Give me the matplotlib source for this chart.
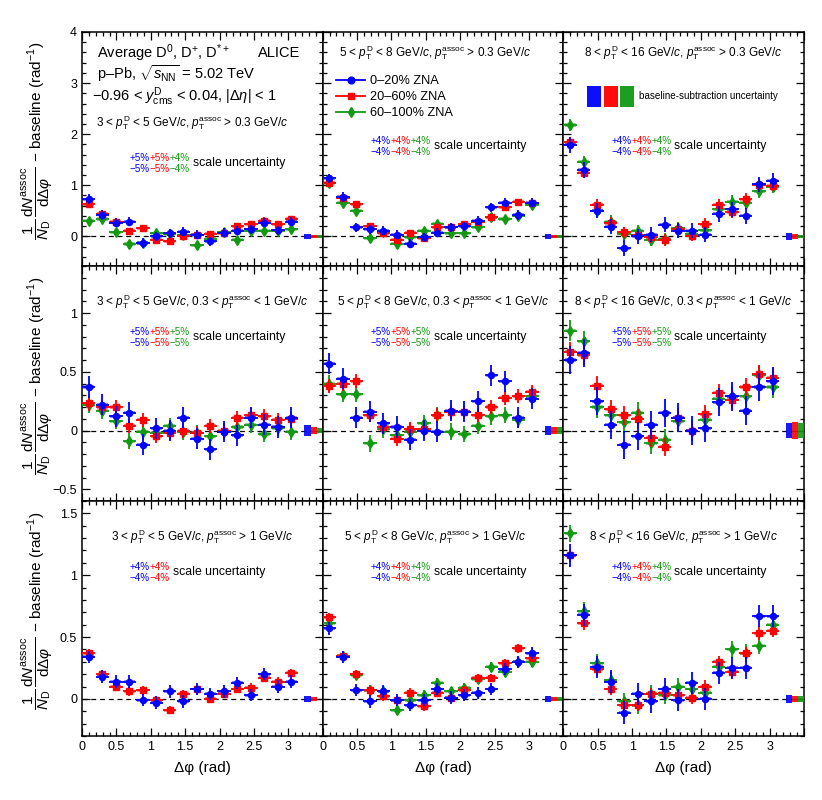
import matplotlib
matplotlib.use('Agg')
import matplotlib.pyplot as plt
from matplotlib.patches import Rectangle
from matplotlib.lines import Line2D
from matplotlib.ticker import MultipleLocator, FuncFormatter, FixedLocator

plt.rcParams['font.family'] = ['Liberation Sans', 'DejaVu Sans']
plt.rcParams['mathtext.fontset'] = 'custom'
plt.rcParams['mathtext.rm'] = 'Liberation Sans'
plt.rcParams['mathtext.it'] = 'Liberation Sans:italic'
plt.rcParams['mathtext.bf'] = 'Liberation Sans:bold'

# delta phi bin centres (pi/16 bins)
dphi = [0.098, 0.295, 0.491, 0.687, 0.884, 1.080, 1.276, 1.473,
        1.669, 1.865, 2.062, 2.258, 2.454, 2.651, 2.847, 3.043]
bin_half = 0.098

# row 1: pT assoc > 0.3 GeV/c
r1c1_blue = [0.73, 0.42, 0.27, 0.29, -0.13, 0.00, 0.06, 0.09, 0.03, -0.10, 0.07, 0.11, 0.14, 0.27, 0.12, 0.29]
r1c1_red = [0.63, 0.44, 0.29, 0.11, 0.16, -0.07, -0.10, 0.01, 0.03, 0.05, 0.06, 0.20, 0.24, 0.31, 0.24, 0.34]
r1c1_green = [0.31, 0.34, 0.08, -0.15, -0.13, 0.06, 0.04, 0.02, -0.17, -0.05, 0.08, -0.07, 0.11, 0.11, 0.11, 0.14]

r1c2_blue = [1.14, 0.77, 0.18, 0.14, 0.11, 0.03, -0.14, -0.02, 0.07, 0.18, 0.20, 0.31, 0.57, 0.66, 0.42, 0.66]
r1c2_red = [1.05, 0.76, 0.63, 0.20, 0.06, -0.07, 0.07, -0.04, 0.18, 0.18, 0.24, 0.29, 0.37, 0.57, 0.68, 0.65]
r1c2_green = [1.04, 0.66, 0.50, -0.04, 0.08, -0.14, -0.02, 0.11, 0.25, 0.06, 0.06, 0.18, 0.37, 0.34, 0.40, 0.62]

r1c3_blue = [1.79, 1.30, 0.50, 0.19, -0.23, 0.00, 0.03, 0.23, 0.11, 0.11, 0.03, 0.44, 0.53, 0.40, 1.02, 1.09]
r1c3_red = [1.84, 1.25, 0.62, 0.26, 0.08, 0.02, -0.02, -0.07, 0.14, 0.01, 0.24, 0.62, 0.47, 0.73, 1.01, 0.99]
r1c3_green = [2.18, 1.46, 0.50, 0.29, 0.05, 0.11, -0.07, -0.05, 0.16, 0.05, 0.12, 0.53, 0.68, 0.66, 0.88, 0.97]

# row 2: 0.3 < pT assoc < 1 GeV/c
r2c1_blue = [0.37, 0.22, 0.12, 0.15, -0.12, 0.02, 0.00, 0.11, -0.07, -0.16, -0.01, -0.04, 0.11, 0.05, 0.03, 0.11]
r2c1_red = [0.23, 0.20, 0.20, 0.04, 0.09, -0.05, -0.02, 0.00, -0.02, 0.04, 0.00, 0.11, 0.13, 0.12, 0.09, 0.10]
r2c1_green = [0.22, 0.17, 0.08, -0.09, -0.01, -0.02, 0.04, -0.01, -0.02, -0.05, -0.01, 0.03, 0.05, -0.03, 0.02, -0.01]

r2c2_blue = [0.57, 0.44, 0.11, 0.16, 0.06, 0.03, -0.08, 0.00, -0.01, 0.17, 0.16, 0.25, 0.47, 0.42, 0.11, 0.27]
r2c2_red = [0.38, 0.40, 0.42, 0.13, 0.03, -0.07, 0.01, 0.01, 0.13, 0.16, 0.16, 0.13, 0.20, 0.28, 0.29, 0.33]
r2c2_green = [0.40, 0.31, 0.31, -0.11, 0.01, -0.04, -0.01, 0.06, 0.13, -0.01, -0.03, 0.04, 0.12, 0.13, 0.09, 0.29]

r2c3_blue = [0.60, 0.66, 0.25, 0.05, -0.12, -0.05, 0.05, 0.15, 0.11, 0.00, 0.02, 0.24, 0.29, 0.17, 0.37, 0.42]
r2c3_red = [0.67, 0.64, 0.38, 0.18, 0.13, 0.10, -0.06, -0.14, 0.11, 0.00, 0.14, 0.32, 0.26, 0.37, 0.48, 0.45]
r2c3_green = [0.85, 0.76, 0.20, 0.13, 0.07, 0.15, -0.11, -0.08, 0.08, 0.00, 0.09, 0.27, 0.29, 0.29, 0.47, 0.37]

# row 3: pT assoc > 1 GeV/c
r3c1_blue = [0.34, 0.18, 0.14, 0.14, -0.01, -0.03, 0.06, -0.02, 0.08, 0.04, 0.06, 0.13, 0.03, 0.20, 0.10, 0.14]
r3c1_red = [0.37, 0.20, 0.10, 0.06, 0.07, -0.01, -0.09, 0.04, 0.08, 0.00, 0.04, 0.08, 0.09, 0.17, 0.14, 0.21]

r3c2_blue = [0.57, 0.34, 0.07, -0.02, 0.06, -0.01, -0.05, -0.01, 0.08, 0.01, 0.03, 0.05, 0.08, 0.24, 0.30, 0.37]
r3c2_red = [0.66, 0.35, 0.20, 0.07, 0.02, -0.01, 0.05, -0.06, 0.05, 0.01, 0.07, 0.17, 0.17, 0.29, 0.41, 0.33]
r3c2_green = [0.61, 0.35, 0.19, 0.07, 0.06, -0.09, -0.01, 0.03, 0.13, 0.06, 0.09, 0.16, 0.26, 0.22, 0.30, 0.30]

r3c3_blue = [1.16, 0.68, 0.26, 0.14, -0.11, 0.04, -0.02, 0.08, -0.01, 0.13, 0.00, 0.21, 0.25, 0.25, 0.67, 0.67]
r3c3_red = [1.16, 0.61, 0.24, 0.08, -0.05, -0.05, 0.04, 0.05, 0.03, 0.01, 0.10, 0.30, 0.22, 0.37, 0.53, 0.55]
r3c3_green = [1.34, 0.71, 0.29, 0.15, -0.02, -0.05, 0.04, 0.03, 0.10, 0.08, 0.05, 0.26, 0.40, 0.37, 0.43, 0.60]

# typical statistical errors (blue, red, green) per panel
stat_r1 = [[0.09, 0.06, 0.06], [0.09, 0.06, 0.06], [0.15, 0.11, 0.12]]
stat_r2 = [[0.09, 0.06, 0.07], [0.09, 0.06, 0.07], [0.12, 0.08, 0.09]]
stat_r3 = [[0.05, 0.035, 0.04], [0.05, 0.035, 0.04], [0.09, 0.05, 0.07]]

# baseline-subtraction uncertainty half heights (blue, red, green)
base_r1 = [[0.045, 0.03, 0.03], [0.045, 0.03, 0.03], [0.065, 0.045, 0.035]]
base_r2 = [[0.043, 0.03, 0.025], [0.04, 0.03, 0.03], [0.06, 0.07, 0.065]]
base_r3 = [[0.027, 0.015, 0.0], [0.025, 0.018, 0.015], [0.03, 0.025, 0.025]]

sys_half = [0.03, 0.013, 0.012]

scale_r1 = [['+5%', '+5%', '+4%'], ['+4%', '+4%', '+4%'], ['+4%', '+4%', '+4%']]
scale_r2 = [['+5%', '+5%', '+5%'], ['+5%', '+5%', '+5%'], ['+5%', '+5%', '+5%']]
scale_r3 = [['+4%', '+4%'], ['+4%', '+4%', '+4%'], ['+4%', '+4%', '+4%']]

dpt_labels = ['3 < $p_{\\rm T}^{\\rm D}$ < 5 GeV/$c$', '5 < $p_{\\rm T}^{\\rm D}$ < 8 GeV/$c$',
              '8 < $p_{\\rm T}^{\\rm D}$ < 16 GeV/$c$']
assoc_labels = ['$p_{\\rm T}^{\\rm assoc}$ > 0.3 GeV/$c$', '0.3 < $p_{\\rm T}^{\\rm assoc}$ < 1 GeV/$c$',
                '$p_{\\rm T}^{\\rm assoc}$ > 1 GeV/$c$']
series_names = ['0–20% ZNA', '20–60% ZNA', '60–100% ZNA']

colors = ['#0000ff', '#ff0000', '#129912']
markers = ['o', 's', 'd']
msizes = [4.4, 4.0, 4.8]

W, H = 822, 800
fig = plt.figure(figsize=(W / 100, H / 100), dpi=100)

col_edges = [82, 322.7, 563.3, 804]
row_edges = [32, 266, 501, 736]
ylims = [(-0.58, 4.0), (-0.6, 1.4), (-0.3, 1.6)]
yticks = [[0, 1, 2, 3, 4], [-0.5, 0, 0.5, 1], [0, 0.5, 1, 1.5]]
yminor = [0.2, 0.1, 0.1]
lab_shift = [0, -8, 0]


def fmt(v, pos):
    if v > 3.2 and v < 3.6:
        return ''
    s = '%g' % round(v, 3)
    return s.replace('-', '\u2212')


def ftext(x, y, s, **kw):
    fig.text(x / W, 1 - y / H, s, **kw)


panels = [
    [[r1c1_blue, r1c1_red, r1c1_green], [r1c2_blue, r1c2_red, r1c2_green], [r1c3_blue, r1c3_red, r1c3_green]],
    [[r2c1_blue, r2c1_red, r2c1_green], [r2c2_blue, r2c2_red, r2c2_green], [r2c3_blue, r2c3_red, r2c3_green]],
    [[r3c1_blue, r3c1_red], [r3c2_blue, r3c2_red, r3c2_green], [r3c3_blue, r3c3_red, r3c3_green]],
]
stats = [stat_r1, stat_r2, stat_r3]
bases = [base_r1, base_r2, base_r3]
scales = [scale_r1, scale_r2, scale_r3]
base_x = [3.28, 3.37, 3.46]

axes = {}
for r in range(3):
    for c in range(3):
        x0, x1 = col_edges[c], col_edges[c + 1]
        y0, y1 = row_edges[r], row_edges[r + 1]
        ax = fig.add_axes([x0 / W, 1 - y1 / H, (x1 - x0) / W, (y1 - y0) / H])
        axes[(r, c)] = ax
        ax.set_xlim(0, 3.5)
        ax.set_ylim(*ylims[r])
        ax.axhline(0, color='black', ls=(0, (4, 3)), lw=0.9, zorder=1)

        series = panels[r][c]
        for i in reversed(range(len(series))):
            vals = series[i]
            col = colors[i]
            for xv, yv in zip(dphi, vals):
                ax.add_patch(Rectangle((xv - 0.08, yv - sys_half[r]), 0.16, 2 * sys_half[r],
                                       facecolor=col, alpha=0.45, lw=0, zorder=2))
            ax.errorbar(dphi, vals, xerr=bin_half, yerr=stats[r][c][i], fmt=markers[i],
                        color=col, ms=msizes[i], elinewidth=1.3, capsize=0, zorder=3 + (3 - i))
            bh = bases[r][c][i]
            ax.add_patch(Rectangle((base_x[i] - 0.045, -bh), 0.09, 2 * bh,
                                   facecolor=col, alpha=0.9, lw=0, zorder=4))

        ax.xaxis.set_major_locator(MultipleLocator(0.5))
        ax.xaxis.set_minor_locator(MultipleLocator(0.1))
        ax.yaxis.set_major_locator(FixedLocator(yticks[r]))
        ax.yaxis.set_minor_locator(MultipleLocator(yminor[r]))
        ax.xaxis.set_major_formatter(FuncFormatter(fmt))
        ax.yaxis.set_major_formatter(FuncFormatter(fmt))
        ax.tick_params(which='both', direction='in', top=True, right=True, labelsize=9)
        ax.tick_params(which='major', length=6, width=0.9)
        ax.tick_params(which='minor', length=3, width=0.9)
        if c != 0:
            ax.tick_params(labelleft=False)
        if r != 2:
            ax.tick_params(labelbottom=False)
        for sp in ax.spines.values():
            sp.set_linewidth(1.1)

        # kinematic label
        lab = dpt_labels[c] + ', ' + assoc_labels[r]
        if r == 0 and c == 0:
            ftext(192, 123, lab, fontsize=8.5, ha='center', va='center')
        else:
            ly = row_edges[r] + (21 if r == 0 else 36)
            ftext((x0 + x1) / 2 + (lab_shift[c] if r != 1 else 0), ly, lab,
                  fontsize=8.5, ha='center', va='center')

        # scale uncertainty
        sx = x0 + 48
        sy = y0 + (126 if r == 0 and c == 0 else 109 if r == 0 else 66)
        pcts = scales[r][c]
        for k, p in enumerate(pcts):
            ftext(sx + 20 * k, sy, p, fontsize=7.1, color=colors[k], ha='left', va='center')
            ftext(sx + 20 * k, sy + 11, '\u2212' + p[1:], fontsize=7.1, color=colors[k],
                  ha='left', va='center')
        ftext(sx + 20 * len(pcts) + 3, sy + 5, 'scale uncertainty', fontsize=8.8, ha='left', va='center')

        if r == 2:
            ftext((x0 + x1) / 2, 768, 'Δφ (rad)', fontsize=11, ha='center', va='center')

# header, top-left panel
ftext(97, 53, r'Average D$^{0}$, D$^{+}$, D$^{*+}$', fontsize=10.5, ha='left', va='center')
ftext(300, 53, 'ALICE', fontsize=10.5, ha='right', va='center')
ftext(97, 74, r'p–Pb, $\sqrt{s_{\rm NN}}$ = 5.02 TeV', fontsize=10.5, ha='left', va='center')
ftext(92, 97, r'−0.96 < $y^{\rm D}_{\rm cms}$ < 0.04, $|\Delta\eta|$ < 1', fontsize=10.5,
      ha='left', va='center')

# centrality legend, top-middle panel
handles = [Line2D([], [], color=colors[i], marker=markers[i], ms=msizes[i] + 0.5, lw=1.3)
           for i in range(3)]
axes[(0, 1)].legend(handles, series_names, loc='upper left', bbox_to_anchor=(0.055, 0.815),
                    frameon=False, fontsize=9.2, handlelength=2.3, handletextpad=0.4,
                    labelspacing=0.32, borderpad=0, borderaxespad=0)

# baseline-subtraction legend, top-right panel
axr = axes[(0, 2)]
for i in range(3):
    lx = (587 + 16.5 * i - col_edges[2]) / (col_edges[3] - col_edges[2])
    axr.add_patch(Rectangle((lx, 1 - (107 - 32) / 234), 14 / 240.7, 21 / 234,
                            transform=axr.transAxes, facecolor=colors[i], lw=0, alpha=0.95))
ftext(639, 96, 'baseline-subtraction uncertainty', fontsize=7.1, ha='left', va='center')

ylab = (r'$\dfrac{1}{N_{\rm D}}\,\dfrac{{\rm d}N^{\rm assoc}}{{\rm d}\Delta\varphi}$'
        + ' − baseline (rad$^{-1}$)')
for r in range(3):
    ftext(38, (row_edges[r] + row_edges[r + 1]) / 2 - 8, ylab, fontsize=11, rotation=90,
          ha='center', va='center')

fig.savefig('out.png', dpi=100)
